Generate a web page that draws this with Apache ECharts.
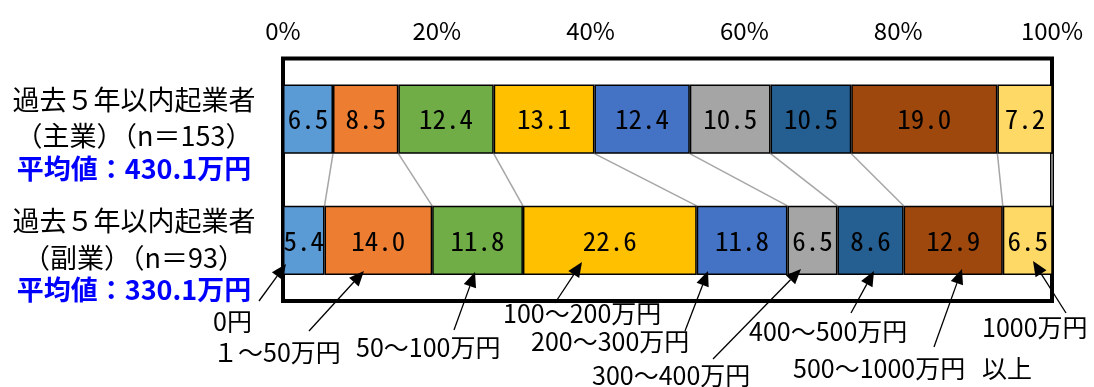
<!DOCTYPE html>
<html>
<head>
<meta charset="utf-8">
<script src="https://cdn.jsdelivr.net/npm/echarts@6/dist/echarts.min.js"></script>
<style>
  html, body { margin: 0; padding: 0; background: #fff; }
  #chart { width: 1094px; height: 387px; }
</style>
</head>
<body>
<div id="chart"></div>
<script>
// ---- data ----
const groupNames = ['過去５年以内起業者', '過去５年以内起業者'];
const groupTypes = ['（主業）', '（副業）'];
const sampleSizes = [153, 93];
const averages = ['430.1', '330.1'];
const brackets = ['0円', '１～50万円', '50～100万円', '100～200万円', '200～300万円',
                  '300～400万円', '400～500万円', '500～1000万円', '1000万円\n以上'];
const mainShares = [6.5, 8.5, 12.4, 13.1, 12.4, 10.5, 10.5, 19.0, 7.2];
const sideShares = [5.4, 14.0, 11.8, 22.6, 11.8, 6.5, 8.6, 12.9, 6.5];
const tickValues = [0, 20, 40, 60, 80, 100];

// ---- styling ----
const colors = ['#5B9BD5', '#ED7D31', '#70AD47', '#FFC000', '#4472C4',
                '#A5A5A5', '#255E91', '#9E480E', '#FFD966'];
const JP = "'Noto Sans CJK JP', 'Noto Sans', sans-serif";
const MONO = "'Noto Sans Mono CJK JP', 'Noto Sans CJK JP', monospace";
const BAR_FRAC = 0.57;

// callout placement: label anchor (left, middle) and arrow tail -> tip, in px
const calloutLayout = [
  { label: [213, 321], tail: [259, 301], tip: [286, 264] },
  { label: [213, 352], tail: [309, 331], tip: [364, 271] },
  { label: [356, 347], tail: [454, 330], tip: [475, 272] },
  { label: [503, 313], tail: [555, 303], tip: [582, 262] },
  { label: [531, 341], tail: [685, 331], tip: [708, 271] },
  { label: [592, 375], tail: [713, 359], tip: [801, 269] },
  { label: [749, 331], tail: [851, 313], tip: [874, 271] },
  { label: [793, 368], tail: [934, 347], tip: [962, 269] },
  { label: [982, 348], tail: [1066, 313], tip: [1033, 261] }
];

// cumulative boundaries for the connector lines between the two bars
function cumulative(arr) {
  let s = 0;
  return arr.map(v => (s += v));
}
const cumMain = cumulative(mainShares);
const cumSide = cumulative(sideShares);
const connectorData = cumMain.map((v, i) => [Math.min(v, 100), 0, Math.min(cumSide[i], 100)]);

const series = brackets.map((name, i) => ({
  name: name.replace('\n', ''),
  type: 'bar',
  stack: 'total',
  barWidth: (BAR_FRAC * 100) + '%',
  data: [mainShares[i], sideShares[i]],
  itemStyle: { color: colors[i], borderColor: '#000', borderWidth: 1.5 },
  label: {
    show: true,
    position: 'inside',
    formatter: p => p.value.toFixed(1),
    fontFamily: MONO,
    fontSize: 27,
    color: '#000'
  },
  z: 2
}));

series.push({
  type: 'custom',
  silent: true,
  z: 1,
  encode: { x: 0, y: 1 },
  data: connectorData,
  renderItem: function (params, api) {
    const p1 = api.coord([api.value(0), 0]);
    const p2 = api.coord([api.value(2), 1]);
    const half = api.size([0, 1])[1] * BAR_FRAC / 2;
    return {
      type: 'line',
      shape: { x1: p1[0], y1: p1[1] + half, x2: p2[0], y2: p2[1] - half },
      style: { stroke: '#A6A6A6', lineWidth: 1.5 }
    };
  }
});

const chart = echarts.init(document.getElementById('chart'), null, { renderer: 'canvas' });

chart.setOption({
  animation: false,
  backgroundColor: '#fff',
  grid: {
    left: 283, right: 42, top: 58.5, bottom: 86,
    show: true, borderColor: '#000', borderWidth: 4, backgroundColor: 'transparent'
  },
  xAxis: {
    type: 'value',
    position: 'top',
    min: tickValues[0],
    max: tickValues[tickValues.length - 1],
    interval: tickValues[1] - tickValues[0],
    axisLine: { show: false },
    axisTick: { show: false },
    splitLine: { show: false },
    axisLabel: {
      formatter: v => v + '%',
      fontFamily: JP,
      fontSize: 24,
      color: '#000',
      margin: 16
    }
  },
  yAxis: {
    type: 'category',
    inverse: true,
    data: groupNames.map((g, i) => g + groupTypes[i]),
    show: false
  },
  series: series
});

// group labels on the left, plus the bracket callouts below the plot
const graphics = [];
groupNames.forEach((g, i) => {
  const cy = chart.convertToPixel({ yAxisIndex: 0 }, i);
  const lines = [
    { text: g, dy: -19.5, fill: '#000', weight: 'normal' },
    { text: groupTypes[i] + '（n＝' + sampleSizes[i] + '）', dy: 17, fill: '#000', weight: 'normal' },
    { text: '平均値：' + averages[i] + '万円', dy: 49.5, fill: '#0000FF', weight: 'bold' }
  ];
  lines.forEach(l => {
    graphics.push({
      type: 'text',
      x: 134,
      y: cy + l.dy,
      z: 100,
      style: {
        text: l.text,
        fill: l.fill,
        fontFamily: JP,
        fontSize: 27,
        fontWeight: l.weight,
        align: 'center', textAlign: 'center',
        verticalAlign: 'middle', textVerticalAlign: 'middle'
      }
    });
  });
});

brackets.forEach((name, i) => {
  const c = calloutLayout[i];
  graphics.push({
    type: 'text',
    x: c.label[0],
    y: c.label[1],
    z: 100,
    style: {
      text: name,
      fill: '#000',
      fontFamily: JP,
      fontSize: 25,
      lineHeight: 41,
      align: 'left', textAlign: 'left',
      verticalAlign: 'middle', textVerticalAlign: 'middle'
    }
  });
  const dx = c.tip[0] - c.tail[0], dy = c.tip[1] - c.tail[1];
  const len = Math.hypot(dx, dy);
  const ux = dx / len, uy = dy / len;
  const L = 15, W = 6.5;
  const bx = c.tip[0] - ux * L, by = c.tip[1] - uy * L;
  graphics.push({
    type: 'line',
    z: 100,
    shape: { x1: c.tail[0], y1: c.tail[1], x2: bx, y2: by },
    style: { stroke: '#000', lineWidth: 1.3 }
  });
  graphics.push({
    type: 'polygon',
    z: 100,
    shape: { points: [c.tip, [bx - uy * W, by + ux * W], [bx + uy * W, by - ux * W]] },
    style: { fill: '#000' }
  });
});

chart.setOption({ graphic: graphics });
</script>
</body>
</html>
